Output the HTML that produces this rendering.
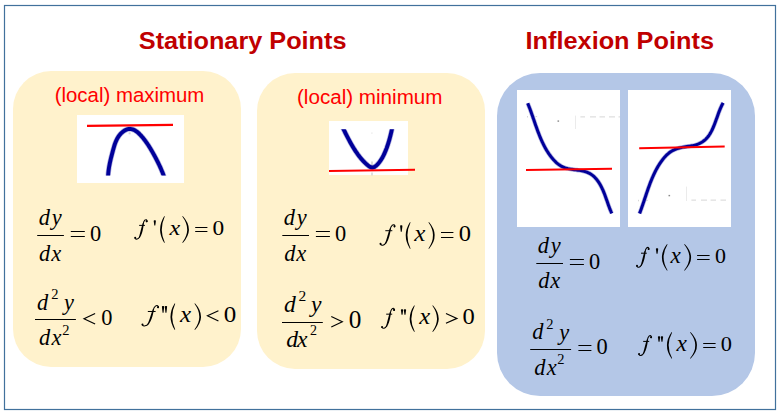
<!DOCTYPE html>
<html><head><meta charset="utf-8"><title>Stationary Points and Inflexion Points</title>
<style>html,body{margin:0;padding:0;background:#fff;width:780px;height:416px;overflow:hidden}svg{display:block}</style>
</head><body>
<svg width="780" height="416" viewBox="0 0 780 416"><rect x="0" y="0" width="780" height="416" fill="#fff"/>
<rect x="13" y="71" width="228" height="296" rx="38.00" ry="38.00" fill="#FFF2CC"/>
<rect x="257" y="73" width="228" height="296" rx="38.00" ry="38.00" fill="#FFF2CC"/>
<rect x="497" y="73" width="258" height="323" rx="43.00" ry="43.00" fill="#B4C7E7"/>
<rect x="4.5" y="5.5" width="771" height="404" fill="none" stroke="#41719C" stroke-width="1.2"/>
<rect x="77" y="115" width="107" height="68" fill="#fff"/>
<clipPath id="c0"><rect x="77" y="115" width="107" height="68"/></clipPath>
<rect x="329" y="121" width="79" height="54" fill="#fff"/>
<clipPath id="c1"><rect x="329" y="121" width="79" height="54"/></clipPath>
<rect x="517" y="90" width="103" height="137" fill="#fff"/>
<clipPath id="c2"><rect x="517" y="90" width="103" height="137"/></clipPath>
<rect x="628" y="90" width="103" height="137" fill="#fff"/>
<clipPath id="c3"><rect x="628" y="90" width="103" height="137"/></clipPath>
<clipPath id="k0"><rect x="77" y="115" width="107" height="60.4"/></clipPath>
<clipPath id="k1"><rect x="329" y="129.3" width="79" height="45.7"/></clipPath>
<rect x="128.6" y="132.3" width="2" height="2" fill="#d8d8d8"/>
<rect x="371.2" y="161.5" width="1.6" height="4.5" fill="#d0d0d0"/>
<rect x="371.2" y="172.5" width="1.6" height="3" fill="#d8d8d8"/>
<rect x="371.3" y="132.5" width="1.2" height="1.2" fill="#e4e4e4"/>
<g fill="#d6d6d6"><rect x="580.4" y="116.4" width="4.6" height="1"/><rect x="590" y="116.4" width="6" height="1"/><rect x="599.5" y="116.4" width="5.5" height="1"/><rect x="609" y="116.4" width="6" height="1"/><rect x="618.5" y="116.4" width="1.5" height="1"/><rect x="575" y="115.6" width="0.8" height="13.4" fill="#e6e6e6"/><rect x="527" y="116" width="1" height="1.5"/><rect x="535.5" y="116" width="1.6" height="1"/><rect x="691.4" y="199.6" width="4.6" height="1"/><rect x="701" y="199.6" width="6" height="1"/><rect x="710.6" y="199.6" width="5.4" height="1"/><rect x="720.5" y="199.6" width="5.5" height="1"/><rect x="686" y="186.6" width="0.8" height="14.4" fill="#e6e6e6"/><rect x="638" y="199.8" width="1" height="1.5"/><rect x="646.3" y="199.8" width="1.6" height="1"/></g>
<rect x="557.5" y="120.4" width="1.6" height="1.4" fill="#8a8a8a"/>
<rect x="668.5" y="194.9" width="1.6" height="1.4" fill="#8a8a8a"/>
<g clip-path="url(#k0)"><path d="M107.98,179.07 L108.00,178.00 L108.04,176.95 L108.09,175.90 L108.16,174.86 L108.24,173.83 L108.33,172.80 L108.44,171.78 L108.55,170.77 L108.69,169.76 L108.83,168.76 L108.98,167.76 L109.15,166.77 L109.32,165.78 L109.51,164.79 L109.70,163.80 L109.90,162.82 L110.11,161.84 L110.33,160.85 L110.56,159.87 L110.79,158.89 L111.03,157.91 L111.27,156.92 L111.52,155.94 L111.78,154.95 L112.04,153.95 L112.30,152.96 L112.56,151.96 L112.83,150.96 L113.10,149.95 L113.38,148.94 L113.67,147.93 L113.96,146.92 L114.27,145.92 L114.59,144.92 L114.93,143.93 L115.29,142.95 L115.67,141.98 L116.07,141.03 L116.49,140.09 L116.94,139.17 L117.42,138.27 L117.94,137.39 L118.48,136.53 L119.06,135.70 L119.68,134.90 L120.34,134.12 L121.04,133.37 L121.78,132.66 L122.56,131.99 L123.38,131.36 L124.23,130.79 L125.11,130.28 L126.01,129.83 L126.92,129.47 L127.84,129.19 L128.77,129.01 L129.69,128.93 L130.61,128.95 L131.52,129.08 L132.42,129.31 L133.32,129.63 L134.20,130.02 L135.07,130.50 L135.93,131.04 L136.78,131.64 L137.61,132.30 L138.42,133.01 L139.22,133.75 L140.00,134.53 L140.77,135.34 L141.51,136.16 L142.23,137.00 L142.94,137.85 L143.62,138.69 L144.27,139.53 L144.91,140.36 L145.52,141.19 L146.12,142.02 L146.70,142.84 L147.27,143.66 L147.82,144.48 L148.36,145.30 L148.89,146.12 L149.41,146.95 L149.92,147.78 L150.42,148.61 L150.92,149.45 L151.42,150.29 L151.91,151.15 L152.41,152.01 L152.90,152.88 L153.40,153.76 L153.89,154.64 L154.38,155.54 L154.87,156.44 L155.36,157.34 L155.84,158.25 L156.32,159.17 L156.80,160.09 L157.27,161.02 L157.74,161.95 L158.20,162.89 L158.66,163.83 L159.11,164.77 L159.55,165.71 L159.99,166.66 L160.42,167.61 L160.84,168.56 L161.25,169.50 L161.65,170.45 L162.04,171.40 L162.43,172.35 L162.80,173.30 L163.16,174.24 L163.51,175.19 L163.85,176.13 L164.17,177.07 L164.48,178.00 L164.78,178.93" fill="none" stroke="#000099" stroke-width="5.3" stroke-opacity="0.3" stroke-linecap="butt" stroke-linejoin="round"/><path d="M107.98,179.07 L108.00,178.00 L108.04,176.95 L108.09,175.90 L108.16,174.86 L108.24,173.83 L108.33,172.80 L108.44,171.78 L108.55,170.77 L108.69,169.76 L108.83,168.76 L108.98,167.76 L109.15,166.77 L109.32,165.78 L109.51,164.79 L109.70,163.80 L109.90,162.82 L110.11,161.84 L110.33,160.85 L110.56,159.87 L110.79,158.89 L111.03,157.91 L111.27,156.92 L111.52,155.94 L111.78,154.95 L112.04,153.95 L112.30,152.96 L112.56,151.96 L112.83,150.96 L113.10,149.95 L113.38,148.94 L113.67,147.93 L113.96,146.92 L114.27,145.92 L114.59,144.92 L114.93,143.93 L115.29,142.95 L115.67,141.98 L116.07,141.03 L116.49,140.09 L116.94,139.17 L117.42,138.27 L117.94,137.39 L118.48,136.53 L119.06,135.70 L119.68,134.90 L120.34,134.12 L121.04,133.37 L121.78,132.66 L122.56,131.99 L123.38,131.36 L124.23,130.79 L125.11,130.28 L126.01,129.83 L126.92,129.47 L127.84,129.19 L128.77,129.01 L129.69,128.93 L130.61,128.95 L131.52,129.08 L132.42,129.31 L133.32,129.63 L134.20,130.02 L135.07,130.50 L135.93,131.04 L136.78,131.64 L137.61,132.30 L138.42,133.01 L139.22,133.75 L140.00,134.53 L140.77,135.34 L141.51,136.16 L142.23,137.00 L142.94,137.85 L143.62,138.69 L144.27,139.53 L144.91,140.36 L145.52,141.19 L146.12,142.02 L146.70,142.84 L147.27,143.66 L147.82,144.48 L148.36,145.30 L148.89,146.12 L149.41,146.95 L149.92,147.78 L150.42,148.61 L150.92,149.45 L151.42,150.29 L151.91,151.15 L152.41,152.01 L152.90,152.88 L153.40,153.76 L153.89,154.64 L154.38,155.54 L154.87,156.44 L155.36,157.34 L155.84,158.25 L156.32,159.17 L156.80,160.09 L157.27,161.02 L157.74,161.95 L158.20,162.89 L158.66,163.83 L159.11,164.77 L159.55,165.71 L159.99,166.66 L160.42,167.61 L160.84,168.56 L161.25,169.50 L161.65,170.45 L162.04,171.40 L162.43,172.35 L162.80,173.30 L163.16,174.24 L163.51,175.19 L163.85,176.13 L164.17,177.07 L164.48,178.00 L164.78,178.93" fill="none" stroke="#000099" stroke-width="3.9" stroke-linecap="butt" stroke-linejoin="round"/></g>
<g clip-path="url(#k1)"><path d="M341.47,125.02 L341.85,125.79 L342.23,126.56 L342.61,127.34 L342.99,128.11 L343.37,128.88 L343.75,129.66 L344.14,130.43 L344.52,131.21 L344.90,131.98 L345.29,132.75 L345.68,133.53 L346.07,134.30 L346.46,135.07 L346.85,135.84 L347.24,136.61 L347.64,137.38 L348.04,138.14 L348.44,138.91 L348.85,139.67 L349.26,140.44 L349.67,141.20 L350.08,141.95 L350.50,142.71 L350.92,143.46 L351.35,144.21 L351.78,144.96 L352.22,145.71 L352.65,146.45 L353.10,147.19 L353.55,147.93 L354.00,148.66 L354.46,149.39 L354.92,150.11 L355.39,150.84 L355.86,151.56 L356.34,152.27 L356.83,152.98 L357.32,153.68 L357.82,154.39 L358.33,155.08 L358.85,155.77 L359.37,156.45 L359.90,157.13 L360.44,157.80 L361.00,158.47 L361.56,159.12 L362.13,159.77 L362.71,160.42 L363.30,161.05 L363.91,161.68 L364.53,162.30 L365.15,162.91 L365.80,163.51 L366.45,164.10 L367.12,164.68 L367.80,165.25 L368.50,165.81 L369.20,166.33 L369.92,166.79 L370.65,167.16 L371.38,167.42 L372.12,167.53 L372.85,167.49 L373.59,167.29 L374.32,166.97 L375.03,166.53 L375.73,166.02 L376.41,165.44 L377.07,164.81 L377.70,164.16 L378.30,163.48 L378.88,162.79 L379.43,162.08 L379.96,161.36 L380.47,160.64 L380.96,159.91 L381.43,159.17 L381.88,158.43 L382.31,157.69 L382.73,156.94 L383.13,156.18 L383.52,155.42 L383.89,154.65 L384.25,153.88 L384.60,153.11 L384.94,152.33 L385.28,151.54 L385.60,150.75 L385.92,149.96 L386.23,149.16 L386.54,148.36 L386.83,147.55 L387.12,146.74 L387.41,145.92 L387.68,145.10 L387.95,144.28 L388.22,143.46 L388.48,142.63 L388.73,141.80 L388.98,140.97 L389.22,140.14 L389.46,139.30 L389.69,138.47 L389.91,137.63 L390.13,136.79 L390.35,135.95 L390.56,135.10 L390.77,134.26 L390.97,133.42 L391.17,132.58 L391.36,131.73 L391.55,130.89 L391.74,130.05 L391.92,129.21 L392.10,128.36 L392.28,127.52 L392.45,126.69 L392.62,125.85 L392.79,125.01" fill="none" stroke="#000099" stroke-width="5.3" stroke-opacity="0.3" stroke-linecap="butt" stroke-linejoin="round"/><path d="M341.47,125.02 L341.85,125.79 L342.23,126.56 L342.61,127.34 L342.99,128.11 L343.37,128.88 L343.75,129.66 L344.14,130.43 L344.52,131.21 L344.90,131.98 L345.29,132.75 L345.68,133.53 L346.07,134.30 L346.46,135.07 L346.85,135.84 L347.24,136.61 L347.64,137.38 L348.04,138.14 L348.44,138.91 L348.85,139.67 L349.26,140.44 L349.67,141.20 L350.08,141.95 L350.50,142.71 L350.92,143.46 L351.35,144.21 L351.78,144.96 L352.22,145.71 L352.65,146.45 L353.10,147.19 L353.55,147.93 L354.00,148.66 L354.46,149.39 L354.92,150.11 L355.39,150.84 L355.86,151.56 L356.34,152.27 L356.83,152.98 L357.32,153.68 L357.82,154.39 L358.33,155.08 L358.85,155.77 L359.37,156.45 L359.90,157.13 L360.44,157.80 L361.00,158.47 L361.56,159.12 L362.13,159.77 L362.71,160.42 L363.30,161.05 L363.91,161.68 L364.53,162.30 L365.15,162.91 L365.80,163.51 L366.45,164.10 L367.12,164.68 L367.80,165.25 L368.50,165.81 L369.20,166.33 L369.92,166.79 L370.65,167.16 L371.38,167.42 L372.12,167.53 L372.85,167.49 L373.59,167.29 L374.32,166.97 L375.03,166.53 L375.73,166.02 L376.41,165.44 L377.07,164.81 L377.70,164.16 L378.30,163.48 L378.88,162.79 L379.43,162.08 L379.96,161.36 L380.47,160.64 L380.96,159.91 L381.43,159.17 L381.88,158.43 L382.31,157.69 L382.73,156.94 L383.13,156.18 L383.52,155.42 L383.89,154.65 L384.25,153.88 L384.60,153.11 L384.94,152.33 L385.28,151.54 L385.60,150.75 L385.92,149.96 L386.23,149.16 L386.54,148.36 L386.83,147.55 L387.12,146.74 L387.41,145.92 L387.68,145.10 L387.95,144.28 L388.22,143.46 L388.48,142.63 L388.73,141.80 L388.98,140.97 L389.22,140.14 L389.46,139.30 L389.69,138.47 L389.91,137.63 L390.13,136.79 L390.35,135.95 L390.56,135.10 L390.77,134.26 L390.97,133.42 L391.17,132.58 L391.36,131.73 L391.55,130.89 L391.74,130.05 L391.92,129.21 L392.10,128.36 L392.28,127.52 L392.45,126.69 L392.62,125.85 L392.79,125.01" fill="none" stroke="#000099" stroke-width="3.9" stroke-linecap="butt" stroke-linejoin="round"/></g>
<g><path d="M527.72,103.28 L528.17,104.37 L528.61,105.47 L529.05,106.58 L529.49,107.70 L529.91,108.84 L530.34,109.98 L530.76,111.13 L531.17,112.29 L531.59,113.46 L532.00,114.63 L532.41,115.81 L532.82,117.00 L533.23,118.19 L533.64,119.38 L534.05,120.58 L534.46,121.78 L534.88,122.99 L535.30,124.19 L535.72,125.40 L536.14,126.61 L536.57,127.82 L537.01,129.02 L537.45,130.23 L537.90,131.43 L538.35,132.63 L538.81,133.83 L539.28,135.03 L539.76,136.21 L540.25,137.40 L540.75,138.58 L541.25,139.75 L541.77,140.91 L542.31,142.07 L542.85,143.22 L543.41,144.35 L543.98,145.48 L544.56,146.60 L545.16,147.71 L545.77,148.81 L546.40,149.89 L547.05,150.96 L547.72,152.02 L548.40,153.06 L549.10,154.09 L549.82,155.10 L550.56,156.10 L551.31,157.07 L552.09,158.04 L552.89,158.98 L553.72,159.90 L554.56,160.81 L555.43,161.69 L556.33,162.54 L557.25,163.35 L558.19,164.12 L559.17,164.84 L560.18,165.51 L561.22,166.13 L562.29,166.68 L563.39,167.17 L564.52,167.61 L565.68,167.99 L566.86,168.33 L568.06,168.63 L569.28,168.89 L570.51,169.13 L571.76,169.34 L573.01,169.53 L574.28,169.70 L575.55,169.87 L576.82,170.04 L578.08,170.21 L579.34,170.39 L580.60,170.59 L581.84,170.82 L583.06,171.07 L584.27,171.36 L585.45,171.69 L586.61,172.07 L587.74,172.51 L588.84,173.01 L589.90,173.57 L590.93,174.20 L591.92,174.88 L592.88,175.63 L593.80,176.43 L594.69,177.28 L595.54,178.17 L596.35,179.10 L597.14,180.07 L597.89,181.08 L598.60,182.11 L599.28,183.16 L599.94,184.25 L600.56,185.35 L601.16,186.48 L601.74,187.63 L602.29,188.79 L602.82,189.96 L603.34,191.15 L603.83,192.35 L604.31,193.56 L604.78,194.78 L605.23,196.00 L605.68,197.22 L606.11,198.44 L606.54,199.66 L606.97,200.87 L607.39,202.08 L607.81,203.28 L608.23,204.47 L608.65,205.65 L609.08,206.82 L609.51,207.96 L609.95,209.09 L610.40,210.20 L610.86,211.29 L611.33,212.35 L611.82,213.38" fill="none" stroke="#000099" stroke-width="4.4" stroke-opacity="0.3" stroke-linecap="butt" stroke-linejoin="round"/><path d="M527.72,103.28 L528.17,104.37 L528.61,105.47 L529.05,106.58 L529.49,107.70 L529.91,108.84 L530.34,109.98 L530.76,111.13 L531.17,112.29 L531.59,113.46 L532.00,114.63 L532.41,115.81 L532.82,117.00 L533.23,118.19 L533.64,119.38 L534.05,120.58 L534.46,121.78 L534.88,122.99 L535.30,124.19 L535.72,125.40 L536.14,126.61 L536.57,127.82 L537.01,129.02 L537.45,130.23 L537.90,131.43 L538.35,132.63 L538.81,133.83 L539.28,135.03 L539.76,136.21 L540.25,137.40 L540.75,138.58 L541.25,139.75 L541.77,140.91 L542.31,142.07 L542.85,143.22 L543.41,144.35 L543.98,145.48 L544.56,146.60 L545.16,147.71 L545.77,148.81 L546.40,149.89 L547.05,150.96 L547.72,152.02 L548.40,153.06 L549.10,154.09 L549.82,155.10 L550.56,156.10 L551.31,157.07 L552.09,158.04 L552.89,158.98 L553.72,159.90 L554.56,160.81 L555.43,161.69 L556.33,162.54 L557.25,163.35 L558.19,164.12 L559.17,164.84 L560.18,165.51 L561.22,166.13 L562.29,166.68 L563.39,167.17 L564.52,167.61 L565.68,167.99 L566.86,168.33 L568.06,168.63 L569.28,168.89 L570.51,169.13 L571.76,169.34 L573.01,169.53 L574.28,169.70 L575.55,169.87 L576.82,170.04 L578.08,170.21 L579.34,170.39 L580.60,170.59 L581.84,170.82 L583.06,171.07 L584.27,171.36 L585.45,171.69 L586.61,172.07 L587.74,172.51 L588.84,173.01 L589.90,173.57 L590.93,174.20 L591.92,174.88 L592.88,175.63 L593.80,176.43 L594.69,177.28 L595.54,178.17 L596.35,179.10 L597.14,180.07 L597.89,181.08 L598.60,182.11 L599.28,183.16 L599.94,184.25 L600.56,185.35 L601.16,186.48 L601.74,187.63 L602.29,188.79 L602.82,189.96 L603.34,191.15 L603.83,192.35 L604.31,193.56 L604.78,194.78 L605.23,196.00 L605.68,197.22 L606.11,198.44 L606.54,199.66 L606.97,200.87 L607.39,202.08 L607.81,203.28 L608.23,204.47 L608.65,205.65 L609.08,206.82 L609.51,207.96 L609.95,209.09 L610.40,210.20 L610.86,211.29 L611.33,212.35 L611.82,213.38" fill="none" stroke="#000099" stroke-width="3.0" stroke-linecap="butt" stroke-linejoin="round"/></g>
<g><path d="M639.54,213.46 L639.98,212.34 L640.41,211.20 L640.83,210.06 L641.25,208.92 L641.66,207.76 L642.07,206.60 L642.48,205.44 L642.88,204.27 L643.28,203.09 L643.68,201.91 L644.08,200.73 L644.47,199.54 L644.87,198.35 L645.27,197.16 L645.67,195.96 L646.07,194.77 L646.47,193.57 L646.87,192.37 L647.28,191.17 L647.70,189.98 L648.11,188.78 L648.54,187.59 L648.97,186.39 L649.40,185.20 L649.85,184.02 L650.30,182.83 L650.76,181.65 L651.23,180.47 L651.71,179.30 L652.20,178.13 L652.70,176.97 L653.21,175.82 L653.73,174.67 L654.27,173.53 L654.82,172.39 L655.38,171.27 L655.96,170.15 L656.55,169.04 L657.16,167.94 L657.79,166.85 L658.43,165.77 L659.09,164.70 L659.76,163.65 L660.46,162.60 L661.18,161.57 L661.91,160.55 L662.67,159.55 L663.45,158.57 L664.25,157.62 L665.08,156.69 L665.93,155.79 L666.80,154.92 L667.70,154.09 L668.63,153.30 L669.58,152.55 L670.57,151.84 L671.58,151.19 L672.62,150.58 L673.70,150.02 L674.80,149.52 L675.94,149.07 L677.09,148.66 L678.27,148.29 L679.48,147.96 L680.70,147.66 L681.93,147.39 L683.18,147.15 L684.44,146.92 L685.70,146.71 L686.97,146.51 L688.24,146.32 L689.51,146.12 L690.77,145.91 L692.02,145.68 L693.26,145.43 L694.47,145.15 L695.67,144.84 L696.84,144.48 L697.99,144.08 L699.10,143.62 L700.18,143.11 L701.23,142.55 L702.25,141.94 L703.23,141.28 L704.17,140.57 L705.08,139.81 L705.95,138.99 L706.78,138.13 L707.56,137.21 L708.32,136.26 L709.03,135.26 L709.72,134.22 L710.37,133.14 L710.99,132.04 L711.59,130.91 L712.16,129.75 L712.70,128.58 L713.23,127.39 L713.74,126.18 L714.23,124.97 L714.70,123.75 L715.17,122.53 L715.62,121.31 L716.07,120.08 L716.50,118.86 L716.94,117.64 L717.37,116.43 L717.80,115.22 L718.24,114.02 L718.67,112.83 L719.12,111.65 L719.57,110.49 L720.03,109.34 L720.50,108.21 L720.99,107.10 L721.49,106.01 L722.01,104.94 L722.56,103.90 L723.12,102.88" fill="none" stroke="#000099" stroke-width="4.4" stroke-opacity="0.3" stroke-linecap="butt" stroke-linejoin="round"/><path d="M639.54,213.46 L639.98,212.34 L640.41,211.20 L640.83,210.06 L641.25,208.92 L641.66,207.76 L642.07,206.60 L642.48,205.44 L642.88,204.27 L643.28,203.09 L643.68,201.91 L644.08,200.73 L644.47,199.54 L644.87,198.35 L645.27,197.16 L645.67,195.96 L646.07,194.77 L646.47,193.57 L646.87,192.37 L647.28,191.17 L647.70,189.98 L648.11,188.78 L648.54,187.59 L648.97,186.39 L649.40,185.20 L649.85,184.02 L650.30,182.83 L650.76,181.65 L651.23,180.47 L651.71,179.30 L652.20,178.13 L652.70,176.97 L653.21,175.82 L653.73,174.67 L654.27,173.53 L654.82,172.39 L655.38,171.27 L655.96,170.15 L656.55,169.04 L657.16,167.94 L657.79,166.85 L658.43,165.77 L659.09,164.70 L659.76,163.65 L660.46,162.60 L661.18,161.57 L661.91,160.55 L662.67,159.55 L663.45,158.57 L664.25,157.62 L665.08,156.69 L665.93,155.79 L666.80,154.92 L667.70,154.09 L668.63,153.30 L669.58,152.55 L670.57,151.84 L671.58,151.19 L672.62,150.58 L673.70,150.02 L674.80,149.52 L675.94,149.07 L677.09,148.66 L678.27,148.29 L679.48,147.96 L680.70,147.66 L681.93,147.39 L683.18,147.15 L684.44,146.92 L685.70,146.71 L686.97,146.51 L688.24,146.32 L689.51,146.12 L690.77,145.91 L692.02,145.68 L693.26,145.43 L694.47,145.15 L695.67,144.84 L696.84,144.48 L697.99,144.08 L699.10,143.62 L700.18,143.11 L701.23,142.55 L702.25,141.94 L703.23,141.28 L704.17,140.57 L705.08,139.81 L705.95,138.99 L706.78,138.13 L707.56,137.21 L708.32,136.26 L709.03,135.26 L709.72,134.22 L710.37,133.14 L710.99,132.04 L711.59,130.91 L712.16,129.75 L712.70,128.58 L713.23,127.39 L713.74,126.18 L714.23,124.97 L714.70,123.75 L715.17,122.53 L715.62,121.31 L716.07,120.08 L716.50,118.86 L716.94,117.64 L717.37,116.43 L717.80,115.22 L718.24,114.02 L718.67,112.83 L719.12,111.65 L719.57,110.49 L720.03,109.34 L720.50,108.21 L720.99,107.10 L721.49,106.01 L722.01,104.94 L722.56,103.90 L723.12,102.88" fill="none" stroke="#000099" stroke-width="3.0" stroke-linecap="butt" stroke-linejoin="round"/></g>
<line x1="87" y1="125.9" x2="173" y2="124.9" stroke="#FF0000" stroke-width="2.2"/>
<line x1="329" y1="171" x2="415" y2="169.8" stroke="#FF0000" stroke-width="2"/>
<line x1="526" y1="170" x2="612" y2="168.8" stroke="#FF0000" stroke-width="2"/>
<line x1="639.2" y1="148.3" x2="724.7" y2="146.6" stroke="#FF0000" stroke-width="2"/>
<text transform="translate(138.79 49.00) scale(1.0191 1.0000)" style="font-family:&quot;Liberation Sans&quot;;font-weight:bold" font-size="24.8" fill="#C00000">Stationary Points</text>
<text transform="translate(525.52 48.80) scale(1.0215 1.0000)" style="font-family:&quot;Liberation Sans&quot;;font-weight:bold" font-size="24.8" fill="#C00000">Inflexion Points</text>
<text transform="translate(54.66 102.00) scale(1.0473 1.0000)" style="font-family:&quot;Liberation Sans&quot;;font-weight:normal" font-size="19.5" fill="#FF0000">(local) maximum</text>
<text transform="translate(296.98 104.00) scale(1.0584 1.0000)" style="font-family:&quot;Liberation Sans&quot;;font-weight:normal" font-size="19.5" fill="#FF0000">(local) minimum</text>
<text x="38.72" y="225.20" style="font-family:&quot;Liberation Serif&quot;;font-style:italic" font-size="22.40">d</text>
<text x="51.75" y="225.40" style="font-family:&quot;Liberation Serif&quot;;font-style:italic" font-size="22.40">y</text>
<rect x="37.20" y="235.00" width="26.70" height="1.00" fill="#000"/>
<text x="39.12" y="260.50" style="font-family:&quot;Liberation Serif&quot;;font-style:italic" font-size="22.40">d</text>
<text x="51.22" y="260.50" style="font-family:&quot;Liberation Serif&quot;;font-style:italic" font-size="22.40">x</text>
<rect x="70.80" y="231.00" width="14.00" height="1.00" fill="#000"/><rect x="70.80" y="236.00" width="14.00" height="1.00" fill="#000"/>
<text x="89.95" y="240.80" style="font-family:&quot;Liberation Serif&quot;;font-style:normal" font-size="22.40">0</text>
<text x="37.02" y="309.50" style="font-family:&quot;Liberation Serif&quot;;font-style:italic" font-size="22.40">d</text>
<text x="51.16" y="298.90" style="font-family:&quot;Liberation Serif&quot;;font-style:normal" font-size="14.50">2</text>
<text x="64.05" y="310.00" style="font-family:&quot;Liberation Serif&quot;;font-style:italic" font-size="22.40">y</text>
<rect x="35.00" y="319.00" width="40.90" height="1.00" fill="#000"/>
<text x="39.12" y="344.80" style="font-family:&quot;Liberation Serif&quot;;font-style:italic" font-size="22.40">d</text>
<text x="51.52" y="344.80" style="font-family:&quot;Liberation Serif&quot;;font-style:italic" font-size="22.40">x</text>
<text x="62.16" y="334.60" style="font-family:&quot;Liberation Serif&quot;;font-style:normal" font-size="14.50">2</text>
<polyline points="95.12,313.57 83.98,318.80 95.12,324.03" fill="none" stroke="#000" stroke-width="1.15" stroke-linejoin="miter"/>
<text x="101.25" y="324.60" style="font-family:&quot;Liberation Serif&quot;;font-style:normal" font-size="22.40">0</text>
<path d="M146.84,221.67 C147.39,219.61 145.88,219.20 144.79,220.23 C143.96,221.05 143.42,222.50 143.14,224.14" fill="none" stroke="#000" stroke-width="1.05" stroke-linecap="round"/><path d="M139.58,236.92 C138.21,239.39 136.02,239.80 135.06,238.15" fill="none" stroke="#000" stroke-width="1.05" stroke-linecap="round"/><path d="M142.79,223.22 L142.58,223.77 L142.40,224.34 L142.22,224.93 L142.04,225.52 L141.87,226.12 L141.70,226.72 L141.53,227.34 L141.37,227.95 L141.21,228.57 L141.05,229.19 L140.89,229.81 L140.73,230.43 L140.58,231.04 L140.42,231.65 L140.27,232.26 L140.11,232.86 L139.96,233.45 L139.80,234.03 L139.65,234.61 L139.49,235.17 L139.33,235.72 L139.17,236.26 L139.01,236.79 L138.86,237.32 L139.76,237.75 L140.08,237.28 L140.37,236.77 L140.65,236.25 L140.91,235.70 L141.16,235.14 L141.40,234.57 L141.62,233.98 L141.84,233.38 L142.04,232.77 L142.23,232.15 L142.41,231.52 L142.57,230.89 L142.73,230.26 L142.87,229.62 L143.01,228.98 L143.13,228.35 L143.24,227.71 L143.35,227.08 L143.44,226.45 L143.53,225.83 L143.61,225.22 L143.67,224.61 L143.73,224.01 L143.77,223.42 Z"/><path d="M139.17,225.38 L144.92,225.38" stroke="#000" stroke-width="1.0"/><circle cx="146.70" cy="221.26" r="1.05"/><circle cx="135.20" cy="237.74" r="1.00"/>
<path d="M153.70,220.95 Q153.70,220.25 154.40,220.25 L155.20,220.25 Q155.90,220.25 155.90,220.95 L155.26,225.50 L154.34,225.50 Z"/>
<path d="M164.30,215.90 Q155.90,229.40 164.30,242.90 L164.75,242.40 Q158.85,229.40 164.75,216.40 Z"/>
<text x="0" y="0" style="font-family:&quot;Liberation Serif&quot;;font-style:italic" font-size="100" transform="translate(169.39 235.10) scale(0.2407 0.2179)">x</text>
<path d="M182.75,215.90 Q195.05,229.40 182.75,242.90 L182.30,242.40 Q192.10,229.40 182.30,216.40 Z"/>
<rect x="195.20" y="227.00" width="12.20" height="1.00" fill="#000"/><rect x="195.20" y="231.00" width="12.20" height="1.00" fill="#000"/>
<text x="0" y="0" style="font-family:&quot;Liberation Serif&quot;;font-style:normal" font-size="100" transform="translate(212.51 234.59) scale(0.2336 0.2193)">0</text>
<path d="M158.21,307.59 C158.94,305.43 156.91,305.00 155.43,306.08 C154.32,306.94 153.58,308.46 153.21,310.18" fill="none" stroke="#000" stroke-width="1.05" stroke-linecap="round"/><path d="M148.40,323.58 C146.55,326.17 143.59,326.60 142.29,324.87" fill="none" stroke="#000" stroke-width="1.05" stroke-linecap="round"/><path d="M152.91,309.19 L152.66,309.77 L152.44,310.36 L152.21,310.97 L152.00,311.59 L151.78,312.22 L151.56,312.85 L151.35,313.49 L151.14,314.13 L150.93,314.78 L150.72,315.43 L150.51,316.07 L150.30,316.72 L150.08,317.36 L149.87,318.00 L149.66,318.64 L149.44,319.27 L149.23,319.89 L149.01,320.50 L148.78,321.10 L148.55,321.70 L148.32,322.28 L148.08,322.85 L147.84,323.40 L147.61,323.96 L148.45,324.49 L148.86,324.00 L149.23,323.47 L149.58,322.92 L149.92,322.35 L150.24,321.77 L150.55,321.16 L150.85,320.55 L151.12,319.92 L151.39,319.28 L151.64,318.63 L151.88,317.97 L152.10,317.31 L152.31,316.64 L152.51,315.97 L152.70,315.30 L152.87,314.63 L153.03,313.97 L153.18,313.30 L153.33,312.64 L153.46,311.99 L153.58,311.34 L153.70,310.70 L153.80,310.07 L153.88,309.45 Z"/><path d="M147.84,311.48 L155.62,311.48" stroke="#000" stroke-width="1.0"/><circle cx="158.02" cy="307.16" r="1.05"/><circle cx="142.48" cy="324.44" r="1.00"/>
<path d="M161.90,306.70 Q161.90,306.00 162.60,306.00 L163.49,306.00 Q164.19,306.00 164.19,306.70 L163.52,312.80 L162.56,312.80 Z"/><path d="M164.81,306.70 Q164.81,306.00 165.51,306.00 L166.40,306.00 Q167.10,306.00 167.10,306.70 L166.44,312.80 L165.48,312.80 Z"/>
<path d="M174.75,303.20 Q166.25,316.60 174.75,330.00 L175.20,329.50 Q169.20,316.60 175.20,303.70 Z"/>
<text x="0" y="0" style="font-family:&quot;Liberation Serif&quot;;font-style:italic" font-size="100" transform="translate(179.90 321.80) scale(0.2496 0.2353)">x</text>
<path d="M194.95,303.20 Q207.05,316.60 194.95,330.00 L194.50,329.50 Q204.10,316.60 194.50,303.70 Z"/>
<polyline points="218.43,310.68 207.47,315.80 218.43,320.93" fill="none" stroke="#000" stroke-width="1.15" stroke-linejoin="miter"/>
<text x="0" y="0" style="font-family:&quot;Liberation Serif&quot;;font-style:normal" font-size="100" transform="translate(223.85 321.57) scale(0.2501 0.2341)">0</text>
<text x="283.82" y="225.20" style="font-family:&quot;Liberation Serif&quot;;font-style:italic" font-size="22.40">d</text>
<text x="296.85" y="225.40" style="font-family:&quot;Liberation Serif&quot;;font-style:italic" font-size="22.40">y</text>
<rect x="282.30" y="235.00" width="26.70" height="1.00" fill="#000"/>
<text x="284.22" y="260.50" style="font-family:&quot;Liberation Serif&quot;;font-style:italic" font-size="22.40">d</text>
<text x="296.32" y="260.50" style="font-family:&quot;Liberation Serif&quot;;font-style:italic" font-size="22.40">x</text>
<rect x="315.90" y="231.00" width="14.00" height="1.00" fill="#000"/><rect x="315.90" y="236.00" width="14.00" height="1.00" fill="#000"/>
<text x="335.05" y="240.80" style="font-family:&quot;Liberation Serif&quot;;font-style:normal" font-size="22.40">0</text>
<text x="283.99" y="311.80" style="font-family:&quot;Liberation Serif&quot;;font-style:italic" font-size="23.60">d</text>
<text x="0" y="0" style="font-family:&quot;Liberation Serif&quot;;font-style:normal" font-size="100" transform="translate(298.62 300.80) scale(0.1547 0.1359)">2</text>
<text x="310.91" y="311.81" style="font-family:&quot;Liberation Serif&quot;;font-style:italic" font-size="23.60">y</text>
<rect x="282.00" y="322.00" width="40.80" height="1.00" fill="#000"/>
<text x="286.29" y="347.40" style="font-family:&quot;Liberation Serif&quot;;font-style:italic" font-size="23.60">d</text>
<text x="296.90" y="347.40" style="font-family:&quot;Liberation Serif&quot;;font-style:italic" font-size="23.60">x</text>
<text x="0" y="0" style="font-family:&quot;Liberation Serif&quot;;font-style:normal" font-size="100" transform="translate(309.99 335.30) scale(0.1397 0.1374)">2</text>
<polyline points="331.27,316.57 342.32,321.80 331.27,327.03" fill="none" stroke="#000" stroke-width="1.15" stroke-linejoin="miter"/>
<text x="0" y="0" style="font-family:&quot;Liberation Serif&quot;;font-style:normal" font-size="100" transform="translate(348.64 327.66) scale(0.2525 0.2504)">0</text>
<path d="M394.64,226.80 C395.30,224.63 393.48,224.20 392.15,225.28 C391.15,226.15 390.49,227.67 390.16,229.41" fill="none" stroke="#000" stroke-width="1.05" stroke-linecap="round"/><path d="M385.84,242.86 C384.18,245.47 381.52,245.90 380.36,244.16" fill="none" stroke="#000" stroke-width="1.05" stroke-linecap="round"/><path d="M389.84,228.42 L389.60,229.01 L389.39,229.61 L389.19,230.22 L388.99,230.84 L388.79,231.47 L388.59,232.11 L388.40,232.75 L388.20,233.40 L388.01,234.05 L387.82,234.70 L387.63,235.35 L387.44,236.00 L387.25,236.65 L387.06,237.30 L386.87,237.93 L386.68,238.56 L386.49,239.19 L386.29,239.80 L386.09,240.41 L385.89,241.00 L385.69,241.59 L385.48,242.16 L385.27,242.71 L385.07,243.27 L385.94,243.76 L386.31,243.26 L386.66,242.73 L386.98,242.18 L387.29,241.60 L387.58,241.01 L387.86,240.41 L388.13,239.79 L388.38,239.15 L388.62,238.51 L388.85,237.86 L389.06,237.20 L389.26,236.54 L389.45,235.87 L389.63,235.20 L389.79,234.52 L389.95,233.85 L390.09,233.18 L390.22,232.52 L390.35,231.85 L390.46,231.20 L390.57,230.55 L390.66,229.91 L390.75,229.28 L390.81,228.66 Z"/><path d="M385.34,230.71 L392.31,230.71" stroke="#000" stroke-width="1.0"/><circle cx="394.47" cy="226.37" r="1.05"/><circle cx="380.53" cy="243.73" r="1.00"/>
<path d="M400.10,225.90 Q400.10,225.20 400.80,225.20 L401.70,225.20 Q402.40,225.20 402.40,225.90 L401.73,231.70 L400.77,231.70 Z"/>
<path d="M410.05,222.10 Q401.35,235.50 410.05,248.90 L410.50,248.40 Q404.30,235.50 410.50,222.60 Z"/>
<text x="0" y="0" style="font-family:&quot;Liberation Serif&quot;;font-style:italic" font-size="100" transform="translate(414.30 241.10) scale(0.2496 0.2353)">x</text>
<path d="M428.95,222.10 Q440.45,235.50 428.95,248.90 L428.50,248.40 Q437.50,235.50 428.50,222.60 Z"/>
<rect x="441.00" y="232.00" width="12.40" height="1.00" fill="#000"/><rect x="441.00" y="237.00" width="12.40" height="1.00" fill="#000"/>
<text x="0" y="0" style="font-family:&quot;Liberation Serif&quot;;font-style:normal" font-size="100" transform="translate(458.67 240.67) scale(0.2454 0.2341)">0</text>
<path d="M394.20,310.34 C394.77,308.22 393.20,307.80 392.05,308.86 C391.20,309.71 390.62,311.19 390.34,312.89" fill="none" stroke="#000" stroke-width="1.05" stroke-linecap="round"/><path d="M386.62,326.03 C385.19,328.58 382.90,329.00 381.90,327.30" fill="none" stroke="#000" stroke-width="1.05" stroke-linecap="round"/><path d="M389.99,311.94 L389.78,312.51 L389.59,313.10 L389.40,313.70 L389.22,314.30 L389.05,314.92 L388.87,315.55 L388.70,316.18 L388.53,316.81 L388.36,317.45 L388.19,318.08 L388.03,318.72 L387.86,319.36 L387.70,319.99 L387.54,320.62 L387.38,321.24 L387.21,321.86 L387.05,322.47 L386.89,323.07 L386.72,323.66 L386.56,324.24 L386.39,324.81 L386.22,325.36 L386.05,325.91 L385.89,326.45 L386.78,326.89 L387.11,326.40 L387.42,325.88 L387.70,325.34 L387.98,324.78 L388.24,324.20 L388.48,323.61 L388.72,323.00 L388.94,322.38 L389.15,321.76 L389.34,321.12 L389.53,320.48 L389.70,319.83 L389.86,319.18 L390.02,318.52 L390.16,317.87 L390.28,317.21 L390.40,316.56 L390.51,315.91 L390.61,315.26 L390.71,314.62 L390.79,313.99 L390.87,313.37 L390.93,312.75 L390.97,312.14 Z"/><path d="M386.19,314.16 L392.20,314.16" stroke="#000" stroke-width="1.0"/><circle cx="394.06" cy="309.92" r="1.05"/><circle cx="382.04" cy="326.88" r="1.00"/>
<path d="M400.90,309.90 Q400.90,309.20 401.60,309.20 L402.49,309.20 Q403.19,309.20 403.19,309.90 L402.52,314.80 L401.56,314.80 Z"/><path d="M403.81,309.90 Q403.81,309.20 404.51,309.20 L405.40,309.20 Q406.10,309.20 406.10,309.90 L405.44,314.80 L404.48,314.80 Z"/>
<path d="M414.25,305.20 Q405.15,318.55 414.25,331.90 L414.70,331.40 Q408.10,318.55 414.70,305.70 Z"/>
<text x="0" y="0" style="font-family:&quot;Liberation Serif&quot;;font-style:italic" font-size="100" transform="translate(419.30 324.10) scale(0.2451 0.2331)">x</text>
<path d="M432.85,305.20 Q444.55,318.55 432.85,331.90 L432.40,331.40 Q441.60,318.55 432.40,305.70 Z"/>
<polyline points="445.97,313.57 456.93,318.40 445.97,323.23" fill="none" stroke="#000" stroke-width="1.15" stroke-linejoin="miter"/>
<text x="0" y="0" style="font-family:&quot;Liberation Serif&quot;;font-style:normal" font-size="100" transform="translate(462.47 323.88) scale(0.2454 0.2223)">0</text>
<text x="537.82" y="253.10" style="font-family:&quot;Liberation Serif&quot;;font-style:italic" font-size="22.40">d</text>
<text x="550.85" y="253.30" style="font-family:&quot;Liberation Serif&quot;;font-style:italic" font-size="22.40">y</text>
<rect x="536.30" y="263.00" width="26.70" height="1.00" fill="#000"/>
<text x="538.22" y="288.40" style="font-family:&quot;Liberation Serif&quot;;font-style:italic" font-size="22.40">d</text>
<text x="550.32" y="288.40" style="font-family:&quot;Liberation Serif&quot;;font-style:italic" font-size="22.40">x</text>
<rect x="569.90" y="259.00" width="14.00" height="1.00" fill="#000"/><rect x="569.90" y="264.00" width="14.00" height="1.00" fill="#000"/>
<text x="589.05" y="268.70" style="font-family:&quot;Liberation Serif&quot;;font-style:normal" font-size="22.40">0</text>
<text x="532.22" y="339.20" style="font-family:&quot;Liberation Serif&quot;;font-style:italic" font-size="22.40">d</text>
<text x="546.36" y="328.60" style="font-family:&quot;Liberation Serif&quot;;font-style:normal" font-size="14.50">2</text>
<text x="559.25" y="339.70" style="font-family:&quot;Liberation Serif&quot;;font-style:italic" font-size="22.40">y</text>
<rect x="530.20" y="349.00" width="40.90" height="1.00" fill="#000"/>
<text x="534.32" y="374.50" style="font-family:&quot;Liberation Serif&quot;;font-style:italic" font-size="22.40">d</text>
<text x="546.72" y="374.50" style="font-family:&quot;Liberation Serif&quot;;font-style:italic" font-size="22.40">x</text>
<text x="557.36" y="364.30" style="font-family:&quot;Liberation Serif&quot;;font-style:normal" font-size="14.50">2</text>
<rect x="578.40" y="345.00" width="13.00" height="1.00" fill="#000"/><rect x="578.40" y="350.00" width="13.00" height="1.00" fill="#000"/>
<text x="596.45" y="354.30" style="font-family:&quot;Liberation Serif&quot;;font-style:normal" font-size="22.40">0</text>
<path d="M648.73,249.42 C649.29,247.32 647.77,246.90 646.66,247.95 C645.84,248.79 645.28,250.26 645.01,251.94" fill="none" stroke="#000" stroke-width="1.05" stroke-linecap="round"/><path d="M641.42,264.96 C640.04,267.48 637.83,267.90 636.87,266.22" fill="none" stroke="#000" stroke-width="1.05" stroke-linecap="round"/><path d="M644.66,251.00 L644.45,251.56 L644.26,252.15 L644.08,252.74 L643.91,253.35 L643.73,253.96 L643.56,254.58 L643.39,255.20 L643.23,255.83 L643.07,256.46 L642.90,257.09 L642.74,257.72 L642.59,258.35 L642.43,258.98 L642.27,259.60 L642.12,260.22 L641.96,260.83 L641.81,261.43 L641.65,262.03 L641.49,262.61 L641.33,263.19 L641.17,263.75 L641.01,264.30 L640.84,264.84 L640.69,265.37 L641.59,265.81 L641.92,265.32 L642.21,264.81 L642.49,264.27 L642.76,263.72 L643.01,263.14 L643.25,262.56 L643.47,261.96 L643.69,261.34 L643.89,260.72 L644.08,260.09 L644.26,259.45 L644.43,258.81 L644.58,258.17 L644.73,257.52 L644.86,256.87 L644.99,256.22 L645.10,255.57 L645.21,254.93 L645.30,254.29 L645.39,253.66 L645.47,253.03 L645.54,252.41 L645.60,251.80 L645.64,251.20 Z"/><path d="M641.01,253.20 L646.80,253.20" stroke="#000" stroke-width="1.0"/><circle cx="648.60" cy="249.00" r="1.05"/><circle cx="637.00" cy="265.80" r="1.00"/>
<path d="M655.90,248.90 Q655.90,248.20 656.60,248.20 L657.50,248.20 Q658.20,248.20 658.20,248.90 L657.53,253.70 L656.57,253.70 Z"/>
<path d="M667.05,243.90 Q656.75,257.30 667.05,270.70 L667.50,270.20 Q659.70,257.30 667.50,244.40 Z"/>
<text x="0" y="0" style="font-family:&quot;Liberation Serif&quot;;font-style:italic" font-size="100" transform="translate(670.38 262.90) scale(0.2318 0.2244)">x</text>
<path d="M684.65,243.90 Q697.55,257.30 684.65,270.70 L684.20,270.20 Q694.60,257.30 684.20,244.40 Z"/>
<rect x="697.10" y="255.00" width="12.50" height="1.00" fill="#000"/><rect x="697.10" y="259.00" width="12.50" height="1.00" fill="#000"/>
<text x="0" y="0" style="font-family:&quot;Liberation Serif&quot;;font-style:normal" font-size="100" transform="translate(715.06 262.69) scale(0.2194 0.2178)">0</text>
<path d="M651.20,337.62 C651.77,335.52 650.20,335.10 649.05,336.15 C648.20,336.99 647.62,338.46 647.34,340.14" fill="none" stroke="#000" stroke-width="1.05" stroke-linecap="round"/><path d="M643.62,353.16 C642.19,355.68 639.90,356.10 638.90,354.42" fill="none" stroke="#000" stroke-width="1.05" stroke-linecap="round"/><path d="M646.99,339.19 L646.78,339.76 L646.59,340.34 L646.40,340.94 L646.22,341.54 L646.05,342.15 L645.87,342.77 L645.70,343.39 L645.53,344.02 L645.36,344.65 L645.19,345.28 L645.03,345.91 L644.86,346.54 L644.70,347.17 L644.54,347.79 L644.38,348.41 L644.22,349.02 L644.05,349.63 L643.89,350.22 L643.73,350.81 L643.56,351.38 L643.39,351.94 L643.22,352.49 L643.05,353.03 L642.89,353.57 L643.78,354.01 L644.11,353.53 L644.42,353.02 L644.70,352.48 L644.98,351.92 L645.23,351.35 L645.48,350.76 L645.72,350.16 L645.94,349.55 L646.15,348.93 L646.34,348.30 L646.53,347.66 L646.70,347.02 L646.86,346.37 L647.01,345.72 L647.15,345.07 L647.28,344.43 L647.40,343.78 L647.51,343.13 L647.61,342.49 L647.71,341.86 L647.79,341.23 L647.87,340.62 L647.93,340.01 L647.97,339.41 Z"/><path d="M643.19,341.40 L649.20,341.40" stroke="#000" stroke-width="1.0"/><circle cx="651.06" cy="337.20" r="1.05"/><circle cx="639.04" cy="354.00" r="1.00"/>
<path d="M657.90,336.90 Q657.90,336.20 658.60,336.20 L659.49,336.20 Q660.19,336.20 660.19,336.90 L659.52,341.80 L658.56,341.80 Z"/><path d="M660.81,336.90 Q660.81,336.20 661.51,336.20 L662.40,336.20 Q663.10,336.20 663.10,336.90 L662.44,341.80 L661.48,341.80 Z"/>
<path d="M671.65,331.90 Q662.15,345.30 671.65,358.70 L672.10,358.20 Q665.10,345.30 672.10,332.40 Z"/>
<text x="0" y="0" style="font-family:&quot;Liberation Serif&quot;;font-style:italic" font-size="100" transform="translate(676.59 350.90) scale(0.2340 0.2244)">x</text>
<path d="M690.55,331.90 Q703.45,345.30 690.55,358.70 L690.10,358.20 Q700.50,345.30 690.10,332.40 Z"/>
<rect x="703.20" y="343.00" width="12.40" height="1.00" fill="#000"/><rect x="703.20" y="347.00" width="12.40" height="1.00" fill="#000"/>
<text x="0" y="0" style="font-family:&quot;Liberation Serif&quot;;font-style:normal" font-size="100" transform="translate(720.85 350.69) scale(0.2241 0.2178)">0</text></svg>
</body></html>
